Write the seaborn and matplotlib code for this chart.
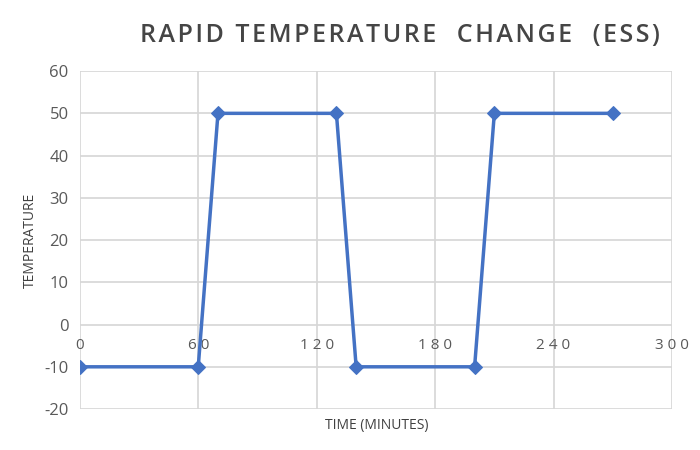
import matplotlib
matplotlib.use("Agg")
import matplotlib.pyplot as plt
import seaborn as sns
import pandas as pd

time_min = [0, 60, 70, 130, 140, 200, 210, 270]
temperature = [-10, -10, 50, 50, -10, -10, 50, 50]
x_ticks = [0, 60, 120, 180, 240, 300]
y_ticks = [-20, -10, 0, 10, 20, 30, 40, 50, 60]

df = pd.DataFrame({"time": time_min, "temp": temperature})

sns.set_theme(style="whitegrid")
plt.rcParams['font.family'] = ['Open Sans', 'DejaVu Sans']
plt.rcParams['axes.unicode_minus'] = False

fig = plt.figure(figsize=(7, 4.5), dpi=100)
ax = fig.add_axes([0.114, 0.091, 0.846, 0.751])

sns.lineplot(data=df, x="time", y="temp", ax=ax, color="#4472C4",
             marker="D", markersize=7, markeredgecolor="#4472C4",
             linewidth=2.5, zorder=3)

ax.set_xlim(0, 300)
ax.set_ylim(-20, 60)
ax.set_xticks(x_ticks)
ax.set_yticks(y_ticks)
ax.set_xticklabels([" ".join(str(t)) for t in x_ticks])
ax.grid(True, color="#D6D6D6", linewidth=1.2)
for s in ax.spines.values():
    s.set_visible(False)
ax.spines['bottom'].set_position(('data', 0))
ax.tick_params(axis='x', length=0, pad=10, labelsize=11, labelcolor="#595959")
ax.tick_params(axis='y', length=0, pad=8, labelsize=12, labelcolor="#595959")
for lbl in ax.get_xticklabels():
    lbl.set_zorder(5)

ax.set_xlabel("")
ax.set_ylabel("")
fig.text(377/700, 1 - 425/450, "TIME (MINUTES)", ha="center", va="center",
         fontsize=10, color="#404040")
fig.text(30/700, 1 - 240/450, "TEMPERATURE", ha="center", va="center",
         rotation=90, fontsize=10, color="#404040")
title = "RAPID TEMPERATURE  CHANGE  (ESS)"
fig.text(400/700, 1 - 35/450, "\u200a".join(title), ha="center",
         va="center", fontsize=18, fontweight="semibold", color="#454545",
         family=['Open Sans', 'DejaVu Sans'])

fig.savefig("out.png", dpi=100)
